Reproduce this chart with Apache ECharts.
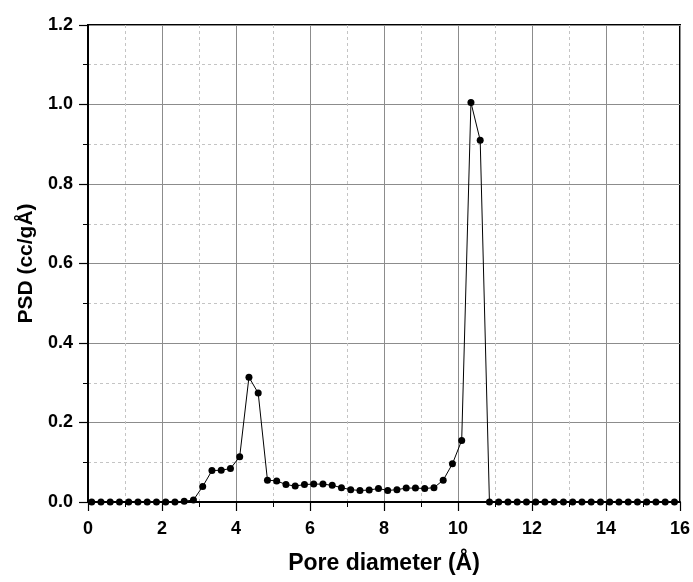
<!DOCTYPE html>
<html>
<head>
<meta charset="utf-8">
<script src="https://cdn.jsdelivr.net/npm/echarts@6/dist/echarts.min.js"></script>
<style>
  html, body { margin: 0; padding: 0; background: #fff; }
  #chart { width: 693px; height: 582px; }
</style>
</head>
<body>
<div id="chart"></div>
<script>
// Pore diameter (Å), sampled every 0.25 Å starting at 0.1
const poreDiameter = [
  0.10, 0.35, 0.60, 0.85, 1.10, 1.35, 1.60, 1.85, 2.10, 2.35,
  2.60, 2.85, 3.10, 3.35, 3.60, 3.85, 4.10, 4.35, 4.60, 4.85,
  5.10, 5.35, 5.60, 5.85, 6.10, 6.35, 6.60, 6.85, 7.10, 7.35,
  7.60, 7.85, 8.10, 8.35, 8.60, 8.85, 9.10, 9.35, 9.60, 9.85,
  10.10, 10.35, 10.60, 10.85, 11.10, 11.35, 11.60, 11.85, 12.10, 12.35,
  12.60, 12.85, 13.10, 13.35, 13.60, 13.85, 14.10, 14.35, 14.60, 14.85,
  15.10, 15.35, 15.60, 15.85
];

// Pore size distribution (cc/gÅ)
const psd = [
  0, 0, 0, 0, 0, 0, 0, 0, 0, 0,
  0.002, 0.005, 0.039, 0.079, 0.080, 0.084, 0.114, 0.314, 0.274, 0.055,
  0.053, 0.044, 0.040, 0.044, 0.045, 0.045, 0.042, 0.036, 0.031, 0.029,
  0.030, 0.034, 0.029, 0.031, 0.035, 0.035, 0.034, 0.036, 0.055, 0.096,
  0.155, 1.005, 0.910, 0, 0, 0, 0, 0, 0, 0,
  0, 0, 0, 0, 0, 0, 0, 0, 0, 0,
  0, 0, 0, 0
];

const xTitle = 'Pore diameter (Å)';
const yTitle = 'PSD (cc/gÅ)';

const font = 'Liberation Sans, Arial, sans-serif';

const chart = echarts.init(document.getElementById('chart'), null, { renderer: 'canvas' });

chart.setOption({
  animation: false,
  backgroundColor: '#fff',
  grid: {
    left: 88, right: 13, top: 25, bottom: 80,
    show: true, borderColor: '#000', borderWidth: 2, backgroundColor: 'transparent'
  },
  xAxis: {
    type: 'value',
    min: 0, max: 16, interval: 2,
    name: xTitle,
    nameLocation: 'middle',
    nameGap: 50,
    nameTextStyle: { fontFamily: font, fontWeight: 'bold', fontSize: 23, color: '#000' },
    axisLine: { show: true, onZero: false, lineStyle: { color: '#000', width: 2 } },
    axisTick: { show: true, inside: false, length: 9, lineStyle: { color: '#000', width: 1.2 } },
    minorTick: { show: true, splitNumber: 2, length: 5, lineStyle: { color: '#000', width: 1 } },
    axisLabel: { fontFamily: font, fontWeight: 'bold', fontSize: 18, color: '#000', margin: 18 },
    splitLine: { show: true, lineStyle: { color: '#8c8c8c', width: 1 } },
    minorSplitLine: { show: true, lineStyle: { color: '#c4c4c4', width: 1, type: [3, 3] } }
  },
  yAxis: {
    type: 'value',
    min: 0, max: 1.2, interval: 0.2,
    name: yTitle,
    nameLocation: 'middle',
    nameGap: 47,
    nameTextStyle: { fontFamily: font, fontWeight: 'bold', fontSize: 21, color: '#000' },
    axisLine: { show: true, onZero: false, lineStyle: { color: '#000', width: 2 } },
    axisTick: { show: true, inside: false, length: 9, lineStyle: { color: '#000', width: 1.2 } },
    minorTick: { show: true, splitNumber: 2, length: 5, lineStyle: { color: '#000', width: 1 } },
    axisLabel: {
      fontFamily: font, fontWeight: 'bold', fontSize: 18, color: '#000', margin: 15,
      formatter: v => v.toFixed(1)
    },
    splitLine: { show: true, lineStyle: { color: '#8c8c8c', width: 1 } },
    minorSplitLine: { show: true, lineStyle: { color: '#c4c4c4', width: 1, type: [3, 3] } }
  },
  series: [{
    type: 'line',
    data: poreDiameter.map((x, i) => [x, psd[i]]),
    symbol: 'circle',
    symbolSize: 7,
    showAllSymbol: true,
    itemStyle: { color: '#000' },
    lineStyle: { color: '#000', width: 1 },
    clip: false
  }]
});
</script>
</body>
</html>
